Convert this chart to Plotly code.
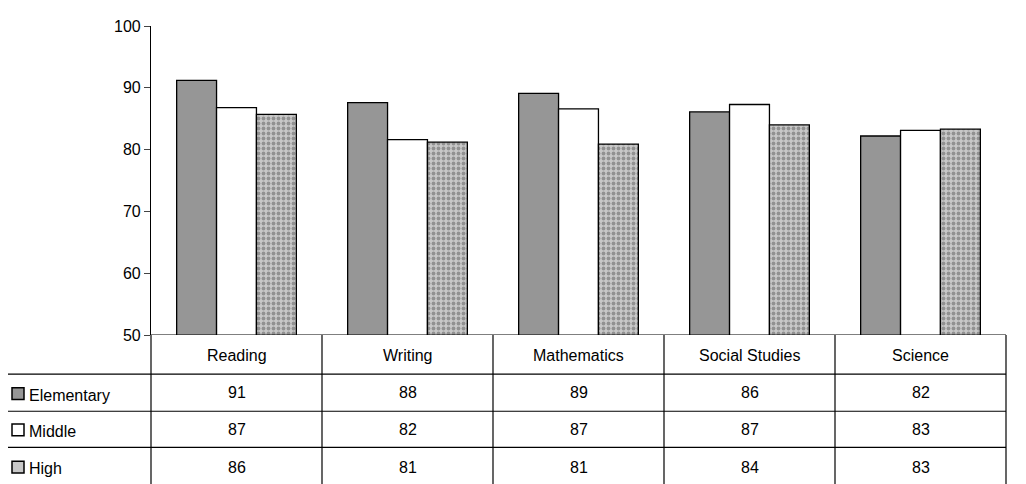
import plotly.graph_objects as go

subjects = ["Reading", "Writing", "Mathematics", "Social Studies", "Science"]
levels = ["Elementary", "Middle", "High"]
elementary = [91.2, 87.6, 89.1, 86.1, 82.2]
middle = [86.8, 81.6, 86.6, 87.3, 83.1]
high = [85.7, 81.2, 80.9, 84.0, 83.3]
table_vals = [[91, 88, 89, 86, 82], [87, 82, 87, 87, 83], [86, 81, 81, 84, 83]]
y_ticks = [50, 60, 70, 80, 90, 100]

# wanted plot box, in screenshot pixels (page adds an 8px body margin)
X0, X1, Y0, Y1 = 151, 1006, 18, 334

W, H = 1018, 476
L, R, T, B = 143, 20, 10, 149


def px_x(x):
    return (x - X0) / (X1 - X0)


def px_y(y):
    return (Y1 - y) / (Y1 - Y0)


fig = go.Figure()
fig.add_trace(go.Bar(x=subjects, y=elementary, name="Elementary",
                     marker=dict(color="#969696", line=dict(color="black", width=1.3))))
fig.add_trace(go.Bar(x=subjects, y=middle, name="Middle",
                     marker=dict(color="white", line=dict(color="black", width=1.3))))
fig.add_trace(go.Bar(x=subjects, y=high, name="High",
                     marker=dict(color="#b8b8b8", line=dict(color="black", width=1.3),
                                 pattern=dict(shape=".", fgcolor="#5a5a5a", bgcolor="#c8c8c8",
                                              size=5, solidity=0.45))))

shapes = []
line = dict(color="black", width=1.2)
row_y = [334, 374, 412, 449, 490]
col_x = [X0 + i * (X1 - X0) / 5 for i in range(6)]
for y in row_y[1:4]:
    shapes.append(dict(type="line", xref="paper", yref="paper",
                       x0=px_x(7), x1=px_x(1006), y0=px_y(y), y1=px_y(y), line=line))
for x in col_x:
    shapes.append(dict(type="line", xref="paper", yref="paper",
                       x0=px_x(x), x1=px_x(x), y0=px_y(334), y1=px_y(490), line=line))
shapes.append(dict(type="line", xref="paper", yref="paper",
                   x0=px_x(7), x1=px_x(7), y0=px_y(374), y1=px_y(490), line=line))

annotations = []
font = dict(family="Arial", size=16, color="black")
for i, s in enumerate(subjects):
    cx = (col_x[i] + col_x[i + 1]) / 2
    annotations.append(dict(text=s, x=px_x(cx), y=px_y(355), xref="paper", yref="paper",
                            xanchor="center", yanchor="middle", showarrow=False, font=font))
    for r in range(3):
        cy = [393, 431, 469][r]
        annotations.append(dict(text=str(table_vals[r][i]), x=px_x(cx), y=px_y(cy),
                                xref="paper", yref="paper", xanchor="center", yanchor="middle",
                                showarrow=False, font=font))

swatch = ["#969696", "white", "#c8c8c8"]
for r, lev in enumerate(levels):
    cy = [396, 433, 471][r]
    shapes.append(dict(type="rect", xref="paper", yref="paper",
                       x0=px_x(12), x1=px_x(24), y0=px_y(cy + 4), y1=px_y(cy - 8),
                       fillcolor=swatch[r], line=dict(color="black", width=1.5)))
    annotations.append(dict(text=lev, x=px_x(27), y=px_y(cy), xref="paper", yref="paper",
                            xanchor="left", yanchor="middle", showarrow=False, font=font))

fig.update_layout(
    width=W, height=H,
    margin=dict(l=L, r=R, t=T, b=B),
    barmode="group", bargap=0.3, bargroupgap=0,
    plot_bgcolor="white", paper_bgcolor="white",
    showlegend=False,
    shapes=shapes, annotations=annotations,
    font=font,
    xaxis=dict(showticklabels=False, ticks="", showline=False, showgrid=False),
    yaxis=dict(range=[50, 100], tickvals=y_ticks, ticks="outside", ticklen=6,
               showline=True, linecolor="black", linewidth=1.2, showgrid=False,
               zeroline=False, tickfont=font),
)
fig.add_hline(y=50, line=dict(color="black", width=1.2))

fig.write_html("out.html")
